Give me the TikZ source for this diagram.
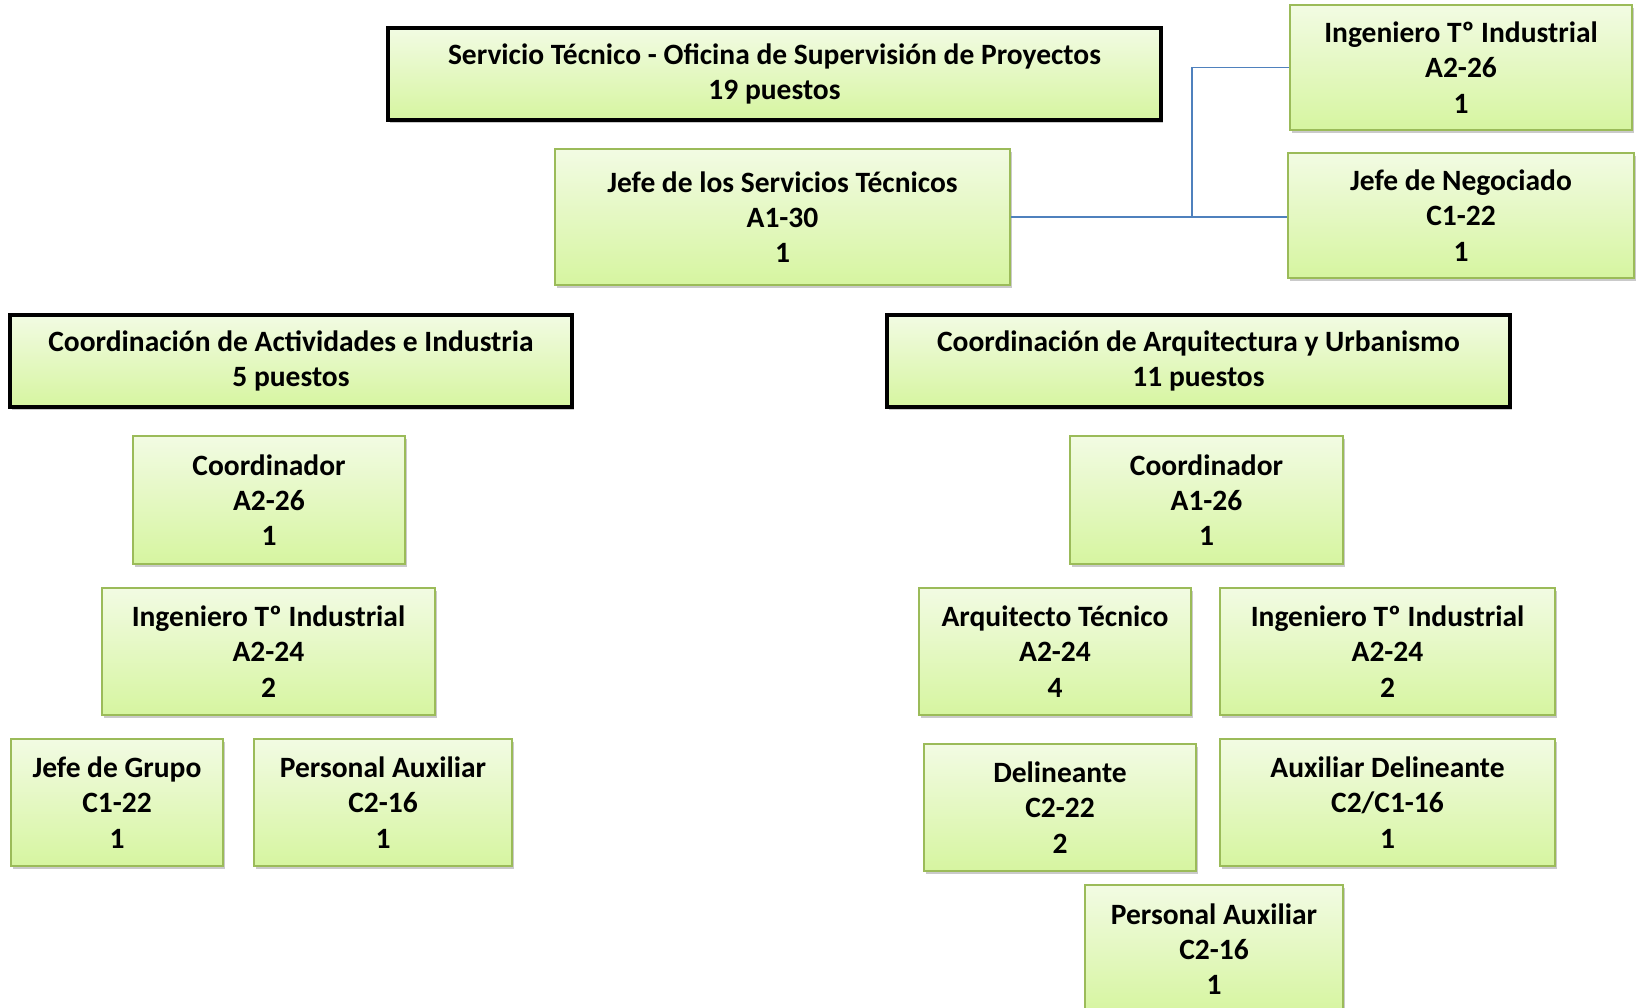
\documentclass[tikz,border=0pt]{standalone}
\usepackage{fontspec}
\setmainfont{Carlito}
\usetikzlibrary{shadows}
\definecolor{boxtop}{HTML}{F2FBE3}
\definecolor{boxbot}{HTML}{D6F5A0}
\definecolor{boxline}{HTML}{9BBB59}
\definecolor{connblue}{HTML}{4F81BD}
\tikzset{
  pbox/.style={rectangle, inner sep=0pt, align=center, top color=boxtop, bottom color=boxbot,
    draw=boxline, line width=2pt, font=\bfseries\fontsize{29.5}{35.3}\selectfont,
    drop shadow={shadow xshift=2pt, shadow yshift=-3pt, opacity=0.35, fill=black!60}},
  hbox/.style={pbox, draw=black, line width=4.5pt},
  conn/.style={draw=connblue, line width=1.8pt}
}
\begin{document}
\begin{tikzpicture}[x=1pt,y=-1pt]
\useasboundingbox (0,0) rectangle (1637,1008);
\node[hbox, minimum width=773pt, minimum height=92pt] (top) at (774.5,74) {Servicio Técnico - Oficina de Supervisión de Proyectos\\19 puestos};
\node[pbox, minimum width=455pt, minimum height=136pt] (jefe) at (782.5,217) {Jefe de los Servicios Técnicos\\A1-30\\1};
\node[pbox, minimum width=342pt, minimum height=125pt] (ing1) at (1461,67.5) {Ingeniero Tº Industrial\\A2-26\\1};
\node[pbox, minimum width=346pt, minimum height=125pt] (neg) at (1461,215.5) {Jefe de Negociado\\C1-22\\1};
\coordinate (jn) at (1192,217);
\draw[conn] (jefe.east) -- (jn) |- (ing1.west);
\draw[conn] (jn) -- (jn -| neg.west);

\node[hbox, minimum width=562pt, minimum height=92pt] (caa) at (291,361) {Coordinación de Actividades e Industria\\5 puestos};
\node[hbox, minimum width=623pt, minimum height=92pt] (cau) at (1198.5,361) {Coordinación de Arquitectura y Urbanismo\\11 puestos};

\node[pbox, minimum width=272pt, minimum height=128pt] (lc) at (269,500) {Coordinador\\A2-26\\1};
\node[pbox, minimum width=333pt, minimum height=127pt] (li) at (268.5,651.5) {Ingeniero Tº Industrial\\A2-24\\2};
\node[pbox, minimum width=212pt, minimum height=127pt] (lj) at (117,802.5) {Jefe de Grupo\\C1-22\\1};
\node[pbox, minimum width=258pt, minimum height=127pt] (lp) at (383,802.5) {Personal Auxiliar\\C2-16\\1};

\node[pbox, minimum width=273pt, minimum height=128pt] (rc) at (1206.5,500) {Coordinador\\A1-26\\1};
\node[pbox, minimum width=272pt, minimum height=127pt] (ra) at (1055,651.5) {Arquitecto Técnico\\A2-24\\4};
\node[pbox, minimum width=335pt, minimum height=127pt] (ri) at (1387.5,651.5) {Ingeniero Tº Industrial\\A2-24\\2};
\node[pbox, minimum width=272pt, minimum height=127pt] (rd) at (1060,807.5) {Delineante\\C2-22\\2};
\node[pbox, minimum width=335pt, minimum height=127pt] (rad) at (1387.5,802.5) {Auxiliar Delineante\\C2/C1-16\\1};
\node[pbox, minimum width=258pt, minimum height=128pt] (rp) at (1214,949) {Personal Auxiliar\\C2-16\\1};
\end{tikzpicture}
\end{document}
